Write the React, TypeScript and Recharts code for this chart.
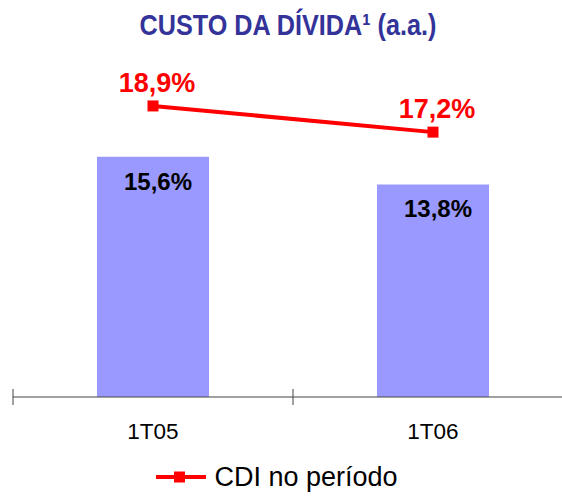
import { ComposedChart, Bar, Line, XAxis, YAxis, LabelList, Legend } from "recharts";

const periods = ["1T05", "1T06"];
const custoDivida = [15.6, 13.8];
const cdiPeriodo = [18.9, 17.2];

const data = periods.map((p, i) => ({ period: p, custo: custoDivida[i], cdi: cdiPeriodo[i] }));

const fmt = (v: number) => v.toFixed(1).replace(".", ",") + "%";
const font = "'Liberation Sans', Arial, sans-serif";

function AxisTick(props: any) {
  const { x, y, payload } = props;
  const off = payload?.offset ?? 0;
  return (
    <g>
      <line x1={x - off} x2={x - off} y1={y - 8} y2={y + 8} stroke="#444" strokeWidth={1} />
      <text x={x} y={y + 42} textAnchor="middle" fontSize={22.5} fontFamily={font} fill="#000">
        {payload.value}
      </text>
    </g>
  );
}

function SquareDot(props: any) {
  const { cx, cy } = props;
  if (cx == null || cy == null) return null;
  return <rect x={cx - 5.5} y={cy - 5.5} width={11} height={11} fill="#FF0000" />;
}

function CdiLabel(props: any) {
  const { x, y, value } = props;
  return (
    <text x={x + 4} y={y - 14} textAnchor="middle" fontSize={27} fontWeight="bold" fontFamily={font} fill="#FF0000">
      {fmt(value)}
    </text>
  );
}

function CustoLabel(props: any) {
  const { x, y, width, value } = props;
  return (
    <text x={x + width / 2 + 5} y={y + 33} textAnchor="middle" fontSize={24} fontWeight="bold" fontFamily={font} fill="#000">
      {fmt(value)}
    </text>
  );
}

function LegendContent() {
  return (
    <div style={{ height: 40, display: "flex", alignItems: "center", justifyContent: "center", paddingRight: 32 }}>
      <svg width={52} height={14} style={{ marginRight: 6 }}>
        <line x1={0} x2={50} y1={7} y2={7} stroke="#FF0000" strokeWidth={4} />
        <rect x={18} y={1.5} width={11} height={11} fill="#FF0000" />
      </svg>
      <span style={{ fontFamily: font, fontSize: 27, color: "#000" }}>CDI no período</span>
    </div>
  );
}

export default function App() {
  return (
    <div style={{ position: "absolute", left: 0, top: 0, width: 562, height: 504, overflow: "hidden", background: "#fff" }}>
      <div
        style={{
          position: "absolute",
          left: 0,
          width: 576,
          top: 8,
          textAlign: "center",
          fontFamily: "'Liberation Sans Narrow', 'Arial Narrow', 'Liberation Sans', sans-serif",
          fontWeight: "bold",
          fontSize: 30,
          color: "#333399",
          transform: "scaleX(0.84)",
          transformOrigin: "288px 0",
        }}
      >
        CUSTO DA DÍVIDA¹ (a.a.)
      </div>
      <ComposedChart width={580} height={504} data={data} margin={{ top: 12, right: 7, left: 13, bottom: 7 }}>
        <XAxis
          dataKey="period"
          axisLine={{ stroke: "#444", strokeWidth: 1 }}
          tickLine={false}
          tickSize={0}
          tickMargin={0}
          height={60}
          tick={<AxisTick />}
          interval={0}
        />
        <YAxis hide domain={[0, 25]} />
        <Legend verticalAlign="bottom" height={40} content={<LegendContent />} />
        <Bar dataKey="custo" fill="#9999FF" barSize={112} isAnimationActive={false}>
          <LabelList dataKey="custo" content={<CustoLabel />} />
        </Bar>
        <Line
          dataKey="cdi"
          stroke="#FF0000"
          strokeWidth={4}
          dot={<SquareDot />}
          activeDot={false}
          legendType="square"
          isAnimationActive={false}
        >
          <LabelList dataKey="cdi" content={<CdiLabel />} />
        </Line>
      </ComposedChart>
    </div>
  );
}
